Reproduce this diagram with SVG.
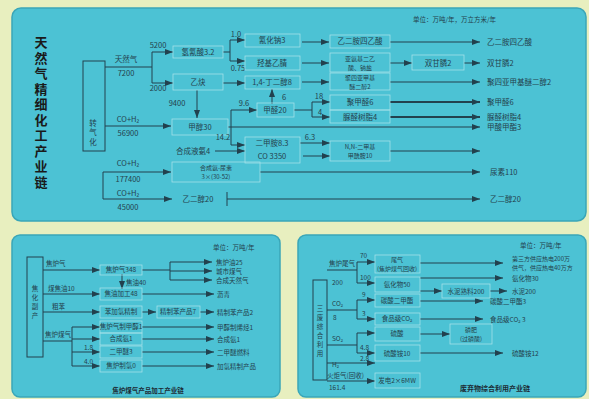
<svg xmlns="http://www.w3.org/2000/svg" width="589" height="399" viewBox="0 0 589 399">
<style>
.t{font-family:"Noto Sans CJK SC","Noto Sans",sans-serif;font-size:7.5px;fill:#24414c}
.s{font-size:6.5px}
.x{font-size:6px}
.m{text-anchor:middle}
.v{writing-mode:vertical-rl}
.ttl{font-family:"Noto Sans CJK SC",sans-serif;font-size:13px;font-weight:bold;fill:#1a1a1a;writing-mode:vertical-rl;letter-spacing:2.5px}
.ln{stroke:#22414e;stroke-width:1;fill:none}
.th{stroke:#22414e;stroke-width:1.8;fill:none}
.bx{fill:none;stroke:#a4e0e8;stroke-width:0.8}
.pn{fill:#4cc2d4;stroke:#3aa6b8;stroke-width:1.5}
.cap{font-family:"Noto Sans CJK SC",sans-serif;font-size:6.5px;font-weight:bold;fill:#1c2c34;text-anchor:middle}
</style>
<defs>
<marker id="a" markerWidth="8" markerHeight="6" refX="8" refY="3" orient="auto" markerUnits="userSpaceOnUse"><path d="M0,0L8,3L0,6z" fill="#22414e"/></marker>
</defs>
<rect width="589" height="399" fill="#e8efbf"/>
<rect class="pn" x="12" y="8" width="574" height="213" rx="9"/>
<rect class="pn" x="12" y="235" width="268" height="162" rx="8"/>
<rect class="pn" x="298" y="235" width="288" height="162" rx="8"/>

<g id="title"><text class="ttl" x="41" y="36">天然气精细化工产业链</text></g>
<text class="t s" x="413" y="22">单位：万吨/年，万立方米/年</text>

<g id="connectors-top">
<rect class="ln" x="83" y="61" width="22" height="90"/>
<path class="ln" d="M105,67H152M152,52V83"/>
<path class="ln" marker-end="url(#a)" d="M152,52H173"/>
<path class="ln" marker-end="url(#a)" d="M152,83H173"/>
<path class="ln" d="M223,52H230M230,40V61"/>
<path class="ln" marker-end="url(#a)" d="M230,40H245"/>
<path class="ln" marker-end="url(#a)" d="M230,61H245"/>
<path class="ln" marker-end="url(#a)" d="M223,83H245"/>
<path class="ln" marker-end="url(#a)" d="M302,42H329"/>
<path class="ln" marker-end="url(#a)" d="M302,63H329"/>
<path class="ln" marker-end="url(#a)" d="M302,82H329"/>
<path class="ln" marker-end="url(#a)" d="M390,42H480"/>
<path class="ln" marker-end="url(#a)" d="M390,63H412"/>
<path class="ln" marker-end="url(#a)" d="M464,63H480"/>
<path class="ln" marker-end="url(#a)" d="M390,82H480"/>
<path class="ln" marker-end="url(#a)" d="M197,90V118"/>
<path class="ln" marker-end="url(#a)" d="M105,126H171"/>
<path class="ln" d="M228,127H231M231,110V145"/>
<path class="ln" marker-end="url(#a)" d="M231,110H257"/>
<path class="ln" marker-end="url(#a)" d="M231,127H480"/>
<path class="ln" marker-end="url(#a)" d="M231,145H245"/>
<path class="ln" marker-end="url(#a)" d="M215,151H245"/>
<path class="ln" marker-end="url(#a)" d="M272,104V89"/>
<path class="ln" d="M294,110H312M312,102V117"/>
<path class="ln" marker-end="url(#a)" d="M312,102H330"/>
<path class="ln" marker-end="url(#a)" d="M312,117H330"/>
<path class="th" marker-end="url(#a)" d="M390,102H480"/>
<path class="th" marker-end="url(#a)" d="M390,117H480"/>
<path class="ln" marker-end="url(#a)" d="M300,143H330"/>
<path class="ln" marker-end="url(#a)" d="M303,156H330"/>
<path class="ln" marker-end="url(#a)" d="M390,151H480"/>
<path class="ln" d="M103,172V199"/>
<path class="ln" marker-end="url(#a)" d="M103,172H171"/>
<path class="ln" marker-end="url(#a)" d="M103,199H172"/>
<path class="ln" marker-end="url(#a)" d="M260,172H480"/>
<path class="ln" d="M227,192V206"/>
<path class="ln" marker-end="url(#a)" d="M227,199H480"/>
</g>

<g id="n-gas">
<text class="t v" x="93" y="119" style="letter-spacing:2px">转气化</text>
<text class="t m" x="126" y="62">天然气</text><text class="t m" x="126" y="76">7200</text>
<text class="t m" x="158" y="48">5200</text><text class="t m" x="158" y="91">2000</text>
</g>
<g id="n-hcn"><rect class="bx" x="173" y="46" width="50" height="12"/><text class="t m" x="198" y="55">氢氰酸3.2</text></g>
<g id="n-c2h2"><rect class="bx" x="173" y="74" width="50" height="16"/><text class="t m" x="198" y="85">乙炔</text></g>
<text class="t m" x="236" y="37">1.0</text><text class="t m" x="238" y="71">0.75</text>
<g id="n-nacn"><rect class="bx" x="245" y="34" width="55" height="13"/><text class="t m" x="272" y="43">氰化钠3</text></g>
<g id="n-gn"><rect class="bx" x="245" y="56" width="55" height="14"/><text class="t m" x="272" y="66">羟基乙腈</text></g>
<g id="n-bdo"><rect class="bx" x="245" y="76" width="55" height="13"/><text class="t m" x="272" y="85">1,4-丁二醇8</text></g>
<g id="n-edta"><rect class="bx" x="330" y="35" width="60" height="13"/><text class="t m" x="360" y="44">乙二胺四乙酸</text></g>
<g id="n-ida"><rect class="bx" x="330" y="53" width="60" height="19"/><text class="t m x" x="360" y="60.5">亚氨基二乙<tspan x="360" dy="9">酸、钠盐</tspan></text></g>
<g id="n-ptmeg"><rect class="bx" x="330" y="73" width="60" height="17"/><text class="t m x" x="360" y="79.5">聚四亚甲基<tspan x="360" dy="9">醚二醇2</tspan></text></g>
<g id="n-pmida"><rect class="bx" x="412" y="55" width="52" height="15"/><text class="t m" x="438" y="66">双甘膦2</text></g>
<text class="t" x="487" y="45">乙二胺四乙酸</text>
<text class="t" x="487" y="66">双甘膦2</text>
<text class="t" x="487" y="85">聚四亚甲基醚二醇2</text>
<text class="t m" x="177" y="106">9400</text>
<g id="n-meoh"><rect class="bx" x="172" y="119" width="56" height="16"/><text class="t m" x="200" y="130">甲醇30</text></g>
<text class="t m" x="128" y="122">CO+H₂</text><text class="t m" x="128" y="136">56900</text>
<text class="t m" x="244" y="106">9.6</text><text class="t m" x="223" y="140">14.2</text>
<text class="t m" x="284" y="100">6</text>
<g id="n-hcho"><rect class="bx" x="257" y="103" width="37" height="14"/><text class="t m" x="275" y="113">甲醛20</text></g>
<text class="t m" x="319" y="99">18</text><text class="t m" x="320" y="115">4</text>
<g id="n-pom"><rect class="bx" x="330" y="95" width="60" height="15"/><text class="t m" x="360" y="105">聚甲醛6</text></g>
<g id="n-uf"><rect class="bx" x="330" y="110" width="60" height="13"/><text class="t m" x="360" y="120">脲醛树脂4</text></g>
<text class="t" x="487" y="105">聚甲醛6</text>
<text class="t" x="487" y="120">脲醛树脂4</text>
<text class="t" x="487" y="130">甲酸甲酯3</text>
<text class="t m" x="193" y="154">合成液氨4</text>
<g id="n-dma"><rect class="bx" x="245" y="137" width="55" height="26"/><text class="t m" x="272" y="146">二甲胺8.3<tspan x="272" dy="13">CO 3350</tspan></text></g>
<text class="t m" x="310" y="140">6.3</text>
<g id="n-dmf"><rect class="bx" x="330" y="141" width="60" height="20"/><text class="t m x" x="360" y="148.5">N,N-二甲基<tspan x="360" dy="9">甲酰胺10</tspan></text></g>
<text class="t m" x="128" y="166">CO+H₂</text><text class="t m" x="128" y="182">177400</text>
<text class="t m" x="128" y="196">CO+H₂</text><text class="t m" x="128" y="210">45000</text>
<g id="n-urea"><rect class="bx" x="172" y="162" width="88" height="20"/><text class="t m x" x="216" y="169.5">合成氨-尿素<tspan x="216" dy="9">3×(30-52)</tspan></text></g>
<g id="n-eg"><text class="t m" x="198" y="202">乙二醇20</text></g>
<text class="t" x="490" y="175">尿素110</text>
<text class="t" x="490" y="202">乙二醇20</text>

<!-- bottom left -->
<text class="t s" x="213" y="250">单位：万吨/年</text>
<g id="connectors-bl">
<rect class="ln" x="27" y="257" width="16" height="100"/>
<path class="ln" marker-end="url(#a)" d="M43,270H100"/>
<path class="ln" d="M142,270H170M170,262V280"/>
<path class="ln" marker-end="url(#a)" d="M170,262H212"/>
<path class="ln" marker-end="url(#a)" d="M170,271H212"/>
<path class="ln" marker-end="url(#a)" d="M170,280H212"/>
<path class="ln" marker-end="url(#a)" d="M122,274V289"/>
<path class="ln" marker-end="url(#a)" d="M43,294H100"/>
<path class="ln" marker-end="url(#a)" d="M142,294H214"/>
<path class="ln" marker-end="url(#a)" d="M43,312H100"/>
<path class="ln" marker-end="url(#a)" d="M142,312H156"/>
<path class="ln" marker-end="url(#a)" d="M200,312H214"/>
<path class="ln" d="M43,341H72M72,327V366"/>
<path class="ln" marker-end="url(#a)" d="M72,327H100"/>
<path class="ln" marker-end="url(#a)" d="M72,339H100"/>
<path class="ln" marker-end="url(#a)" d="M72,352H100"/>
<path class="ln" marker-end="url(#a)" d="M72,366H100"/>
<path class="ln" marker-end="url(#a)" d="M142,327H214"/>
<path class="ln" marker-end="url(#a)" d="M142,339H214"/>
<path class="ln" marker-end="url(#a)" d="M142,352H214"/>
<path class="ln" marker-end="url(#a)" d="M142,366H214"/>
</g>
<g id="bl-src"><text class="t s v" x="35" y="285" style="letter-spacing:2.5px">焦化副产</text></g>
<text class="t s" x="46" y="266">焦炉气</text>
<text class="t s" x="48" y="291">煤焦油10</text>
<text class="t s" x="52" y="309">粗苯</text>
<text class="t s" x="45" y="337">焦炉煤气</text>
<text class="t s" x="84" y="350">1.8</text><text class="t s" x="84" y="364">4.0</text>
<g id="bl-n1"><rect class="bx" x="100" y="265" width="42" height="10"/><text class="t m s" x="121" y="272">焦炉气348</text></g>
<text class="t s" x="126" y="285">焦油40</text>
<g id="bl-n2"><rect class="bx" x="100" y="288" width="42" height="12"/><text class="t m s" x="121" y="296">焦油加工48</text></g>
<g id="bl-n3"><rect class="bx" x="100" y="306" width="42" height="12"/><text class="t m s" x="121" y="314">苯加氢精制</text></g>
<g id="bl-n4"><rect class="bx" x="157" y="306" width="43" height="12"/><text class="t m s" x="178" y="314">精制苯产品7</text></g>
<g id="bl-n5"><rect class="bx" x="100" y="321" width="42" height="12"/><text class="t m s" x="121" y="329">焦炉气制甲醇1</text></g>
<g id="bl-n6"><rect class="bx" x="100" y="333" width="42" height="12"/><text class="t m s" x="121" y="341">合成氨1</text></g>
<g id="bl-n7"><rect class="bx" x="100" y="346" width="42" height="12"/><text class="t m s" x="121" y="354">二甲醚3</text></g>
<g id="bl-n8"><rect class="bx" x="100" y="360" width="42" height="12"/><text class="t m s" x="121" y="368">焦炉制氢0</text></g>
<text class="t s" x="216" y="265">焦炉油25</text>
<text class="t s" x="216" y="274">城市煤气</text>
<text class="t s" x="216" y="283">合成天然气</text>
<text class="t s" x="217" y="297">沥青</text>
<text class="t s" x="217" y="315">精制苯产品2</text>
<text class="t s" x="217" y="330">甲醇制烯烃1</text>
<text class="t s" x="217" y="342">合成氨1</text>
<text class="t s" x="217" y="355">二甲醚燃料</text>
<text class="t s" x="217" y="369">加氢精制产品</text>
<text class="cap" x="148" y="393">焦炉煤气产品加工产业链</text>

<!-- bottom right -->
<text class="t s" x="520" y="248">单位：万吨/年</text>
<g id="connectors-br">
<rect class="ln" x="313" y="280" width="14" height="100"/>
<path class="ln" d="M327,270H357M357,262V283"/>
<path class="ln" marker-end="url(#a)" d="M357,262H375"/>
<path class="ln" marker-end="url(#a)" d="M357,283H375"/>
<path class="ln" marker-end="url(#a)" d="M420,263H503"/>
<path class="ln" marker-end="url(#a)" d="M420,278H503"/>
<path class="ln" marker-end="url(#a)" d="M420,291H442"/>
<path class="ln" marker-end="url(#a)" d="M490,291H507"/>
<path class="ln" d="M327,310H357M357,300V319"/>
<path class="ln" marker-end="url(#a)" d="M357,300H375"/>
<path class="ln" marker-end="url(#a)" d="M357,319H375"/>
<path class="ln" marker-end="url(#a)" d="M420,301H483"/>
<path class="ln" marker-end="url(#a)" d="M420,319H483"/>
<path class="ln" d="M327,345H357M357,333V353"/>
<path class="ln" marker-end="url(#a)" d="M357,333H375"/>
<path class="ln" marker-end="url(#a)" d="M357,353H375"/>
<path class="ln" marker-end="url(#a)" d="M420,334H450"/>
<path class="ln" marker-end="url(#a)" d="M420,353H503"/>
<path class="ln" marker-end="url(#a)" d="M327,363H375"/>
<path class="ln" marker-end="url(#a)" d="M327,381H375"/>
</g>
<g id="br-src"><text class="t s v" x="320" y="305" style="letter-spacing:2.5px">三废综合利用</text></g>
<text class="t s" x="329" y="266">焦炉尾气</text><text class="t s" x="332" y="285">200</text>
<text class="t s" x="360" y="258">70</text><text class="t s" x="360" y="280">100</text>
<text class="t s" x="332" y="306">CO₂</text><text class="t s" x="333" y="320">8</text>
<text class="t s" x="362" y="297">9</text><text class="t s" x="362" y="316">3</text>
<text class="t s" x="332" y="341">SO₂</text>
<text class="t s" x="360" y="350">4.8</text>
<text class="t s" x="332" y="367">H₂</text><text class="t s" x="360" y="361">2.8</text>
<text class="t s" x="327" y="378">火炬气(回收)</text><text class="t s" x="329" y="390">161.4</text>
<g id="br-n1"><rect class="bx" x="375" y="255" width="45" height="18"/><text class="t m x" x="397" y="262">尾气<tspan x="397" dy="9">(焦炉煤气回收)</tspan></text></g>
<g id="br-n2"><rect class="bx" x="375" y="277" width="45" height="15"/><text class="t m s" x="397" y="287">氨化物50</text></g>
<g id="br-n3"><rect class="bx" x="442" y="284" width="48" height="14"/><text class="t m s" x="466" y="294">水泥熟料200</text></g>
<g id="br-n4"><rect class="bx" x="375" y="294" width="45" height="13"/><text class="t m s" x="397" y="303">碳酸二甲酯</text></g>
<g id="br-n5"><rect class="bx" x="375" y="313" width="45" height="12"/><text class="t m s" x="397" y="321">食品级CO₂</text></g>
<g id="br-n6"><rect class="bx" x="375" y="327" width="45" height="14"/><text class="t m s" x="397" y="336">硫酸</text></g>
<g id="br-n7"><rect class="bx" x="450" y="324" width="42" height="20"/><text class="t m x" x="471" y="331.5">磷肥<tspan x="471" dy="9">(过磷酸)</tspan></text></g>
<g id="br-n8"><rect class="bx" x="375" y="345" width="45" height="16"/><text class="t m s" x="397" y="356">硫酸铵10</text></g>
<g id="br-n9"><rect class="bx" x="375" y="373" width="45" height="15"/><text class="t m s" x="397" y="383">发电2×6MW</text></g>
<text class="t x" x="512" y="261">第三方供应热电200万<tspan x="512" dy="9">供气，供应热电40万方</tspan></text>
<text class="t s" x="512" y="281">氨化物30</text>
<text class="t s" x="512" y="294">水泥200</text>
<text class="t s" x="490" y="304">碳酸二甲酯3</text>
<text class="t s" x="490" y="322">食品级CO₂ 3</text>
<text class="t s" x="512" y="356">硫酸铵12</text>
<text class="cap" x="495" y="391" style="font-size:7px">废弃物综合利用产业链</text>
</svg>
